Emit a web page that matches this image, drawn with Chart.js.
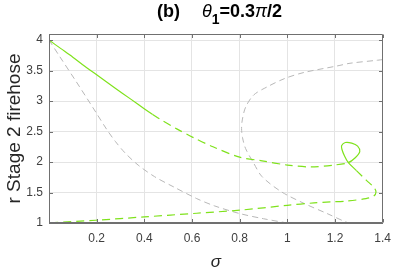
<!DOCTYPE html>
<html>
<head>
<meta charset="utf-8">
<script src="https://cdn.jsdelivr.net/npm/chart.js@4/dist/chart.umd.min.js"></script>
<style>
  html, body { margin: 0; padding: 0; background: #fff; }
  #wrap { position: relative; width: 399px; height: 269px; }
  #title { position: absolute; left: 49px; width: 341px; top: 2px; text-align: center;
           font-family: "Liberation Sans", Arial, sans-serif; font-weight: bold; font-size: 18px;
           line-height: 18px; color: #000; white-space: nowrap; }
  #title .g { font-style: italic; font-weight: normal; }
  #title .sub { font-size: 14px; position: relative; top: 7px; }
  canvas { position: absolute; left: 0; top: 0; }
</style>
</head>
<body>
<div id="wrap">
  <canvas id="c" width="399" height="269"></canvas>
  <div id="title">(b)<span style="display:inline-block;width:22px"></span><span class="g">θ</span><span class="sub">1</span>=0.3<span class="g">π</span>/2</div>
</div>
<script>
// ---- data ----
const greenX = [0, 0.05, 0.1, 0.15, 0.2, 0.278, 0.34, 0.401, 0.435, 0.463, 0.538, 0.606, 0.688, 0.8, 0.894, 1.0, 1.1, 1.195, 1.256, 1.285, 1.304, 1.295, 1.27, 1.243, 1.228, 1.229, 1.24, 1.256, 1.29, 1.332, 1.362, 1.372, 1.362, 1.33, 1.249, 1.181, 1.112, 1.0, 0.8, 0.62, 0.4, 0.196, 0];
const greenY = [4, 3.86, 3.72, 3.57, 3.43, 3.21, 3.04, 2.87, 2.78, 2.71, 2.54, 2.40, 2.25, 2.08, 2.02, 1.95, 1.92, 1.95, 1.99, 2.07, 2.17, 2.26, 2.31, 2.32, 2.27, 2.21, 2.10, 1.99, 1.86, 1.70, 1.59, 1.51, 1.44, 1.40, 1.36, 1.345, 1.33, 1.29, 1.21, 1.16, 1.10, 1.045, 1.0];
const graySteepX = [0, 0.045, 0.114, 0.196, 0.243, 0.278, 0.319, 0.374, 0.443, 0.524, 0.62, 0.695, 0.8, 0.9, 1.0];
const graySteepY = [4, 3.73, 3.32, 2.82, 2.53, 2.34, 2.15, 1.95, 1.76, 1.59, 1.40, 1.28, 1.155, 1.07, 1.0];
const grayTurnX = [1.4, 1.379, 1.263, 1.208, 1.071, 0.989, 0.914, 0.859, 0.825, 0.811, 0.808, 0.812, 0.825, 0.859, 0.894, 0.976, 1.071, 1.167, 1.243, 1.26];
const grayTurnY = [3.68, 3.67, 3.62, 3.575, 3.47, 3.37, 3.23, 3.10, 2.90, 2.69, 2.55, 2.40, 2.22, 1.98, 1.76, 1.51, 1.32, 1.155, 1.02, 1.0];
const xTicks = [0.2, 0.4, 0.6, 0.8, 1, 1.2, 1.4];
const yTicks = [1, 1.5, 2, 2.5, 3, 3.5, 4];
const greenSolidRuns = [[0, 8], [18, 28]]; // index ranges of the solid parts

const pts = (xs, ys) => xs.map((x, i) => ({x: x, y: ys[i]}));
const FONT = '"Liberation Sans", Arial, sans-serif';
const GREEN = '#7fe21c';
const GRAY = '#b8b8b8';

const boxPlugin = {
  id: 'box',
  afterDraw(chart) {
    const {ctx, chartArea: a, scales} = chart;
    const L = Math.round(a.left) + 0.5, R = Math.round(a.right) - 0.5;
    const T = Math.round(a.top) + 0.5, B = Math.round(a.bottom) - 0.5;
    ctx.save();
    ctx.strokeStyle = '#707070';
    ctx.lineWidth = 1;
    ctx.beginPath();
    ctx.rect(L, T, R - L, B - T);
    const tl = 3.5;
    xTicks.forEach(v => {
      const px = Math.round(scales.x.getPixelForValue(v)) + 0.5;
      ctx.moveTo(px, T); ctx.lineTo(px, T + tl);
      ctx.moveTo(px, B); ctx.lineTo(px, B - tl);
    });
    yTicks.forEach(v => {
      const py = Math.round(scales.y.getPixelForValue(v)) + 0.5;
      ctx.moveTo(L, py); ctx.lineTo(L + tl, py);
      ctx.moveTo(R, py); ctx.lineTo(R - tl, py);
    });
    ctx.stroke();
    ctx.restore();
  }
};

new Chart(document.getElementById('c'), {
  type: 'scatter',
  data: {
    datasets: [
      {
        data: pts(greenX, greenY), showLine: true, borderColor: GREEN, borderWidth: 1.2,
        pointRadius: 0, tension: 0.3, fill: false,
        segment: {
          borderDash: c => greenSolidRuns.some(r => c.p0DataIndex >= r[0] && c.p0DataIndex < r[1]) ? [] : [8, 5]
        }
      },
      {
        data: pts(graySteepX, graySteepY), showLine: true, borderColor: GRAY, borderWidth: 1,
        borderDash: [6, 4], pointRadius: 0, tension: 0.3, fill: false
      },
      {
        data: pts(grayTurnX, grayTurnY), showLine: true, borderColor: GRAY, borderWidth: 1,
        borderDash: [6, 4], pointRadius: 0, tension: 0.3, fill: false
      }
    ]
  },
  options: {
    responsive: false, animation: false,
    layout: { padding: { left: 0, right: 9, top: 34, bottom: 0 } },
    plugins: { legend: { display: false }, tooltip: { enabled: false }, title: { display: false } },
    scales: {
      x: {
        type: 'linear', min: 0, max: 1.4,
        afterFit: s => { s.height = 46; },
        afterBuildTicks: s => { s.ticks = [0].concat(xTicks).map(v => ({value: v})); },
        ticks: {
          callback: v => v === 0 ? '' : String(Math.round(v * 10) / 10),
          font: { family: FONT, size: 12 }, color: '#404040', padding: 8, maxRotation: 0, autoSkip: false
        },
        grid: { color: '#e4e4e4', drawTicks: false, lineWidth: 1 },
        border: { display: true, color: '#707070' },
        title: { display: true, text: 'σ', font: { family: FONT, size: 17, style: 'italic', lineHeight: 0.8 },
                 color: '#262626', padding: { top: 0, bottom: 0 } }
      },
      y: {
        type: 'linear', min: 1, max: 4.1,
        afterFit: s => { s.width = 49; },
        afterBuildTicks: s => { s.ticks = yTicks.map(v => ({value: v})); },
        ticks: {
          callback: v => String(v),
          font: { family: FONT, size: 12 }, color: '#404040', padding: 6, autoSkip: false
        },
        grid: { color: '#e4e4e4', drawTicks: false, lineWidth: 1 },
        border: { display: true, color: '#707070' },
        title: { display: true, text: 'r Stage 2 firehose', font: { family: FONT, size: 19, lineHeight: 1.2 },
                 color: '#262626', padding: { top: 3, bottom: 0 } }
      }
    }
  },
  plugins: [boxPlugin]
});
</script>
</body>
</html>
